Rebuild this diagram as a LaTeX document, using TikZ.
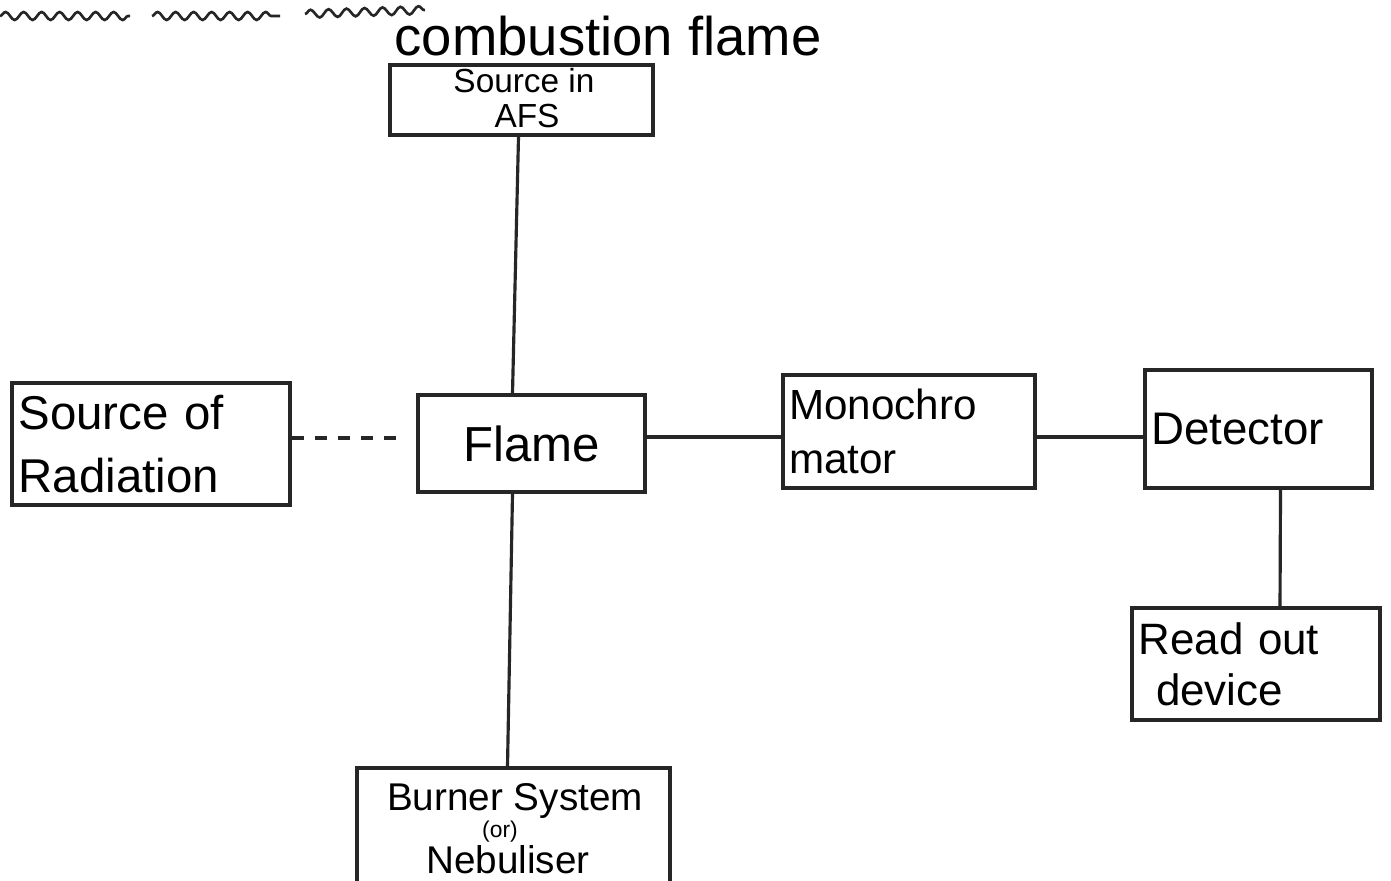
\documentclass[tikz,border=0pt]{standalone}
\usepackage{fontspec}
\setmainfont{Liberation Sans}
\usetikzlibrary{calc,decorations.pathmorphing}
\tikzset{
  blk/.style={draw=black!85, line width=2pt, inner sep=3pt, font=\fontsize{26}{32}\selectfont},
  txt/.style={inner sep=0pt},
  wire/.style={draw=black!85, line width=1.8pt},
  wavy/.style={draw=black!85, line width=1.5pt, decorate, decoration={snake, amplitude=0.08cm, segment length=0.36cm}}
}
\begin{document}
\begin{tikzpicture}[x=0.02cm, y=-0.02cm]
\useasboundingbox[fill=white] (0,0) rectangle (1391,881);
% heading underline
\coordinate (w1a) at (0,16); \coordinate (w1b) at (130,16);
\coordinate (w2a) at (152,16); \coordinate (w2b) at (280,16);
\coordinate (w3a) at (305,14); \coordinate (w3b) at (425,10);
\draw[wavy] (w1a) -- (w1b);
\draw[wavy] (w2a) -- (w2b);
\draw[wavy] (w3a) -- (w3b);
\node[font=\fontsize{31}{38}\selectfont] (title) at (608,36) {combustion flame};
% boxes
\node[blk, minimum width=5.26cm, minimum height=1.4cm] (afs) at (521.5,100) {};
\node[txt, font=\fontsize{19}{19}\selectfont, anchor=base] (afs1) at (524,93) {Source in};
\node[txt, font=\fontsize{19}{19}\selectfont, anchor=base] (afs2) at (527,128) {AFS};
\node[blk, minimum width=5.56cm, minimum height=2.44cm, text width=5.3cm, align=left, font=\fontsize{27}{36}\selectfont] (src) at (151,444) {Source of\\Radiation};
\node[blk, minimum width=4.54cm, minimum height=1.94cm, font=\fontsize{28}{34}\selectfont] (flame) at (531.5,443.5) {Flame};
\node[blk, minimum width=5.04cm, minimum height=2.26cm, text width=4.8cm, align=left, font=\fontsize{24}{31}\selectfont] (mono) at (909,431.5) {Monochro\\mator};
\node[blk, minimum width=4.54cm, minimum height=2.36cm, text width=4.3cm, align=left, font=\fontsize{26}{32}\selectfont] (det) at (1258.5,429) {Detector};
\node[blk, minimum width=4.96cm, minimum height=2.24cm, text width=4.7cm, align=left, font=\fontsize{25}{29}\selectfont] (rod) at (1256,664) {Read out\\\hspace*{0.35cm}device};
\node[blk, minimum width=6.26cm, minimum height=2.48cm] (bur) at (513.5,830) {};
\node[txt, font=\fontsize{22}{24}\selectfont, anchor=base] (bur1) at (515,810) {Burner System};
\node[txt, font=\fontsize{13}{14}\selectfont, anchor=base] (bur2) at (500,837) {(or)};
\node[txt, font=\fontsize{22}{24}\selectfont, anchor=base] (bur3) at (508,873) {Nebuliser};
% connectors
\coordinate (ya) at (0,437);
\coordinate (yb) at (0,438);
\draw[wire] ($(afs.south)+(-3,0)$) -- ($(flame.north)+(-19,0)$);
\draw[wire] ($(flame.south)+(-19,0)$) -- ($(bur.north)+(-6,0)$);
\draw[wire] (flame.east |- ya) -- (mono.west |- ya);
\draw[wire] (mono.east |- ya) -- (det.west |- ya);
\draw[wire] ($(det.south)+(22,0)$) -- ($(rod.north)+(24,0)$);
\draw[wire, dash pattern=on 0.24cm off 0.22cm] (src.east |- yb) -- ($(flame.west |- yb)+(-13,0)$);
\end{tikzpicture}
\end{document}
